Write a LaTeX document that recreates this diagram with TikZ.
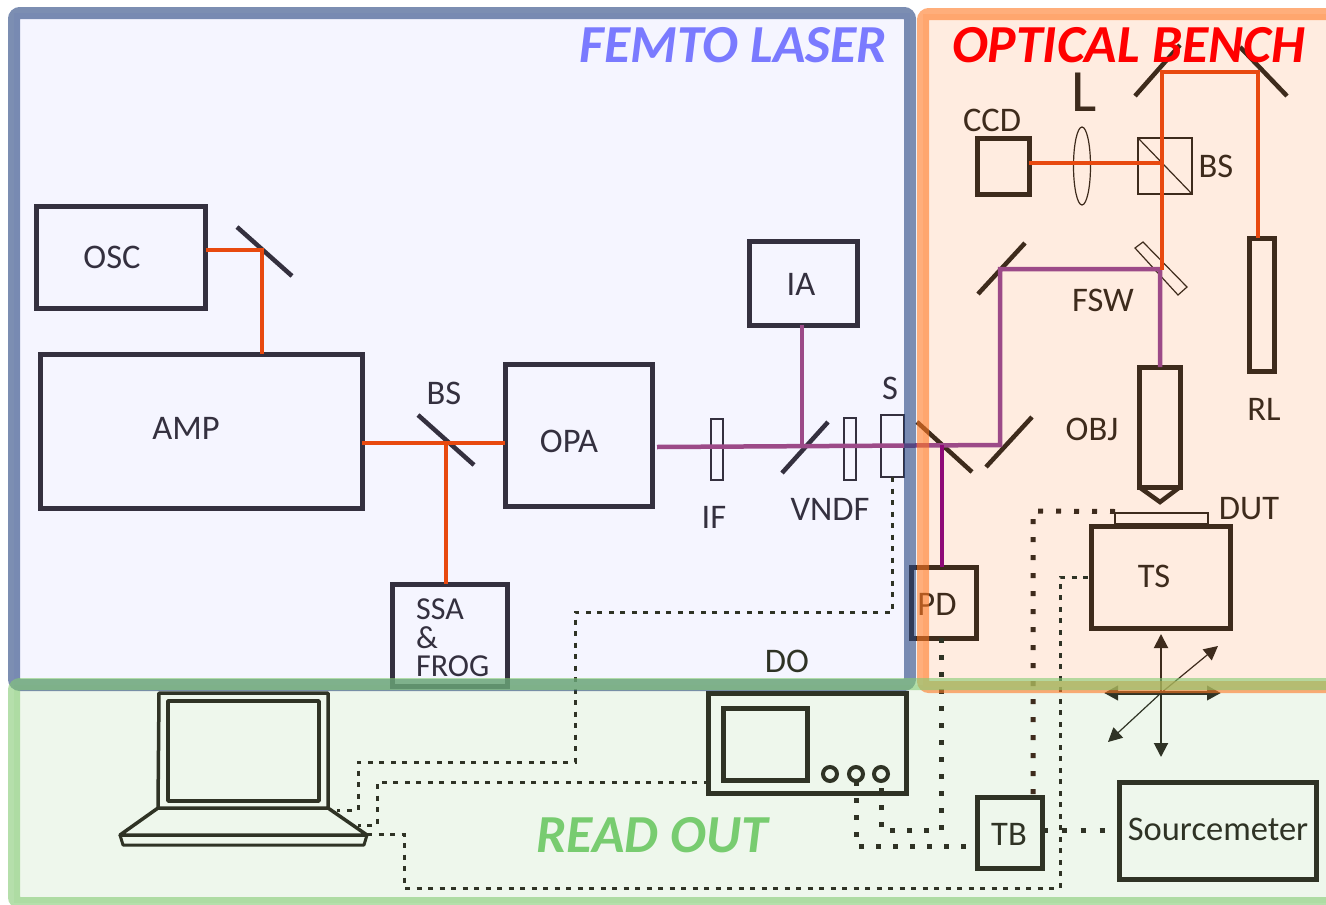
\documentclass[tikz,border=0pt]{standalone}
\usepackage{xcolor}
\usepackage{fontspec}
\setmainfont{Carlito}
\usepackage{tikz}
\usetikzlibrary{arrows.meta,calc,shapes.geometric}
\definecolor{laserDolgu}{HTML}{F5F5FF}
\definecolor{benchDolgu}{HTML}{FFECE0}
\definecolor{readDolgu}{HTML}{EEF7EC}
\definecolor{laserKenar}{HTML}{264480}
\definecolor{benchKenar}{HTML}{FF7823}
\definecolor{readKenar}{HTML}{84CB73}
\definecolor{laserKoyu}{HTML}{34303F}
\definecolor{benchKoyu}{HTML}{3E2B1C}
\definecolor{readKoyu}{HTML}{2F3325}
\definecolor{isinTuruncu}{HTML}{E8490F}
\definecolor{isinMor}{HTML}{9C4A88}
\definecolor{isinKoyuMor}{HTML}{8E0A78}
\definecolor{baslikMavi}{HTML}{7A7AFF}
\definecolor{baslikYesil}{HTML}{78CC70}
\tikzset{
  box/.style={draw,line width=5pt,inner sep=0pt,outer sep=0pt},
  thinbox/.style={draw,line width=1.2pt,inner sep=0pt,outer sep=0pt},
  etiket/.style={inner sep=0pt,font=\fontsize{34.5}{36}\selectfont},
  kucuketiket/.style={inner sep=0pt,anchor=west,font=\fontsize{32}{34}\selectfont},
  baslik/.style={inner sep=0pt,font=\fontsize{53.5}{55}\selectfont\bfseries\itshape},
  beam/.style={isinTuruncu,line width=4.5pt},
  mbeam/.style={isinMor,line width=4.5pt},
  mirrorline/.style={line width=4.5pt},
  dashline/.style={line width=3pt,dash pattern=on 5pt off 6.5pt},
  dotline/.style={line width=5pt,dash pattern=on 5pt off 13pt},
  stagearrow/.style={-{Triangle[length=14pt,width=14pt]}}
}
\begin{document}
\begin{tikzpicture}[x=1pt,y=-1pt]
\useasboundingbox (0,0) rectangle (1326,905);
\fill[white] (0,0) rectangle (1326,905);
\fill[laserDolgu] (14,13) rectangle (910,685);
\fill[readDolgu] (14,685) rectangle (1340,903);
\fill[benchDolgu] (923,14) rectangle (1340,687);
% femto laser
\begin{scope}[laserKoyu,text=laserKoyu]
\node[box,minimum width=169pt,minimum height=102pt] (osc) at (121,257) {};
\node[box,minimum width=322pt,minimum height=154pt] (amp) at (201,431) {};
\node[box,minimum width=147pt,minimum height=142pt] (opa) at (578.5,435) {};
\node[box,minimum width=115pt,minimum height=102pt] (ssa) at (449.5,635) {};
\node[box,minimum width=108pt,minimum height=84pt] (ia) at (803,283) {};
\node[thinbox,minimum width=12pt,minimum height=61pt] (ifilter) at (717,449.5) {};
\node[thinbox,minimum width=12pt,minimum height=62pt] (vndf) at (850,449) {};
\node[thinbox,minimum width=23pt,minimum height=62pt] (shutter) at (892.5,446) {};
\node[etiket] (oscl) at (112,257) {OSC};
\node[etiket] (ampl) at (186,428) {AMP};
\node[etiket] (bsa) at (444,393) {BS};
\node[etiket] (opal) at (569,441) {OPA};
\node[etiket] (ial) at (801,284) {IA};
\node[etiket] (ifl) at (714,517) {IF};
\node[etiket] (vndfl) at (830,509) {VNDF};
\node[etiket] (sl) at (890,388) {S};
\node[kucuketiket] (ssal) at (416,609) {SSA};
\node[kucuketiket] (andl) at (416,638) {\&};
\node[kucuketiket] (frogl) at (416,666) {FROG};
\foreach \xa/\ya/\xb/\yb in {237/227/292/276,418/415/474/465,782/473/828/422}{
  \draw[mirrorline] (\xa,\ya)--(\xb,\yb);
}
\end{scope}
% optical bench
\begin{scope}[benchKoyu,text=benchKoyu]
\node[box,minimum width=52pt,minimum height=56pt] (ccd) at (1003,166) {};
\node[box,minimum width=25pt,minimum height=133pt] (rl) at (1261.5,304.5) {};
\node[box,minimum width=41pt,minimum height=120pt] (obj) at (1159.5,427) {};
\node[box,minimum width=139pt,minimum height=102pt] (ts) at (1160.5,577) {};
\node[box,minimum width=65pt,minimum height=71pt] (pd) at (943.5,602.5) {};
\node[thinbox,minimum width=93pt,minimum height=11pt] (dut) at (1161.5,518.5) {};
\node[thinbox,minimum width=54pt,minimum height=56pt] (bscube) at (1165,166) {};
\node[thinbox,ellipse,minimum width=17pt,minimum height=78pt] (lens) at (1082,166) {};
\node[etiket] (ccdl) at (992,120) {CCD};
\node[etiket,font=\fontsize{60}{62}\selectfont] (ll) at (1084,92) {L};
\node[etiket] (bsb) at (1216,166) {BS};
\node[etiket] (fswl) at (1103,300) {FSW};
\node[etiket] (objl) at (1092,429) {OBJ};
\node[etiket] (rll) at (1264,409) {RL};
\node[etiket] (dutl) at (1249,509) {DUT};
\node[etiket] (tsl) at (1154,576) {TS};
\node[etiket] (pdl) at (937,604) {PD};
\draw[line width=1.2pt] (bscube.north west)--(bscube.south east);
\draw[line width=1.2pt] (1135,248)--(1143,242)--(1187,287)--(1178,295)--cycle;
\draw[line width=4.5pt,line join=miter] (obj.south west)--(1160,502)--(obj.south east);
\foreach \xa/\ya/\xb/\yb in {917/422/972/472,986/467/1032/417,978/294/1025/243,1135/96/1180/45,1240/47/1287/96}{
  \draw[mirrorline] (\xa,\ya)--(\xb,\yb);
}
\end{scope}
% read out
\begin{scope}[readKoyu,text=readKoyu]
\node[box,minimum width=198pt,minimum height=100pt] (dso) at (807.5,743) {};
\node[box,minimum width=84pt,minimum height=72pt] (dscreen) at (765,744) {};
\node[box,minimum width=65pt,minimum height=71pt] (tb) at (1010,833) {};
\node[box,minimum width=197pt,minimum height=97pt] (smu) at (1217.5,830.5) {};
\node[etiket] (dol) at (787,661) {DO};
\node[etiket] (tbl) at (1009,834) {TB};
\node[etiket] (smul) at (1218,829) {Sourcemeter};
\foreach \kx/\kn in {830/ka,856/kb,881/kc}{
  \node[draw,circle,line width=4pt,minimum size=14pt,inner sep=0pt,outer sep=0pt] (\kn) at (\kx,774) {};
}
\coordinate (pcA) at (337,810);
\coordinate (pcB) at (358,825);
\coordinate (pcC) at (367,834);
\draw[line width=3.5pt,line join=round] (158,808)--(159,693)--(328,693)--(328,808)--cycle;
\draw[line width=3.5pt,line join=round] (168,801)--(168,701)--(319,701)--(319,801)--cycle;
\draw[line width=3.5pt,line join=round] (158,808)--(120,835)--(367,835)--(328,808);
\draw[line width=3pt,line join=round] (120,835)--(123,845)--(364,845)--(367,835);
\end{scope}
% beams
\coordinate (moa) at (262,250);
\draw[beam] (osc.east|-moa)--(moa)--(amp.north-|moa);
\coordinate (mbs) at (446,443);
\draw[beam] (amp.east|-mbs)--(opa.west|-mbs);
\draw[beam] (mbs)--(ssa.north-|mbs);
\coordinate (opaout) at (657,447);
\coordinate (fold) at (1000,445);
\coordinate (fswm) at (1160,269);
\draw[mbeam] (opaout)--(fold)--(1000,269)--(fswm)--(obj.north-|fswm);
\draw[mbeam] (802,447)--(ia.south-|802,447);
\draw[isinKoyuMor,line width=4.5pt] (942,445)--(pd.north-|942,445);
\coordinate (ntop) at (1162,72);
\coordinate (ntopr) at (1258,72);
\draw[beam,line join=miter] (1162,270)--(ntop)--(ntopr)--(rl.north-|ntopr);
\draw[beam] (ccd.east|-0,163)--(1162,163);
% stage arrows
\coordinate (stage) at (1161,693);
\coordinate (sup) at (1161,634);
\coordinate (sdn) at (1161,757);
\coordinate (slt) at (1104,693);
\coordinate (srt) at (1221,693);
\coordinate (sne) at (1218,646);
\coordinate (ssw) at (1108,742);
\draw[stagearrow,benchKoyu,line width=2pt] (stage)--(sup);
\draw[stagearrow,readKoyu,line width=2pt] (stage)--(sdn);
\draw[stagearrow,benchKoyu,line width=1.2pt] (stage)--(sne);
\draw[stagearrow,readKoyu,line width=1.2pt] (stage)--(ssw);
\draw[stagearrow,readKoyu,line width=3.5pt] (stage)--(slt);
\draw[stagearrow,readKoyu,line width=3.5pt] (stage)--(srt);
% signal lines
\draw[dashline,readKoyu] (shutter.south)--(shutter.south|-0,612)--(575,612)--(575,762)--(358,762)--(358,810)--(pcA);
\draw[dashline,readKoyu] (dso.west|-0,782)--(377,782)--(377,825)--(pcB);
\draw[dashline,readKoyu] (pcC)--(404,834)--(404,888)--(1060,888)--(1060,577)--(ts.west|-0,577);
\draw[dotline,benchKoyu] (dut.west)++(0,-7)--(1033,511)--(tb.north-|1033,511);
\draw[dotline,readKoyu,dash pattern=on 5pt off 12pt] (pd.south-|941,640)--(941,830)--(881,830)--(kc.south);
\draw[dotline,readKoyu,dash pattern=on 5pt off 12pt] (kb.south)--(856,846)--(tb.west|-0,846);
\draw[dotline,readKoyu,dash pattern=on 5pt off 14pt] (tb.east|-0,830)--(smu.west|-0,830);
% panel frames
\draw[laserKenar,opacity=0.6,line width=12pt,rounded corners=6pt] (14,13) rectangle (910,685);
\draw[benchKenar,opacity=0.6,line width=12pt,rounded corners=6pt] (923,14) rectangle (1345,687);
\draw[readKenar,opacity=0.6,line width=12pt,rounded corners=6pt] (14,684) rectangle (1345,903);
% titles
\node[baslik,text=baslikMavi,anchor=east] (femto) at (887,45) {FEMTO LASER};
\node[baslik,text=red,anchor=east] (bench) at (1305,45) {OPTICAL BENCH};
\node[baslik,text=baslikYesil,anchor=east] (readout) at (768,835) {READ OUT};
\end{tikzpicture}
\end{document}
